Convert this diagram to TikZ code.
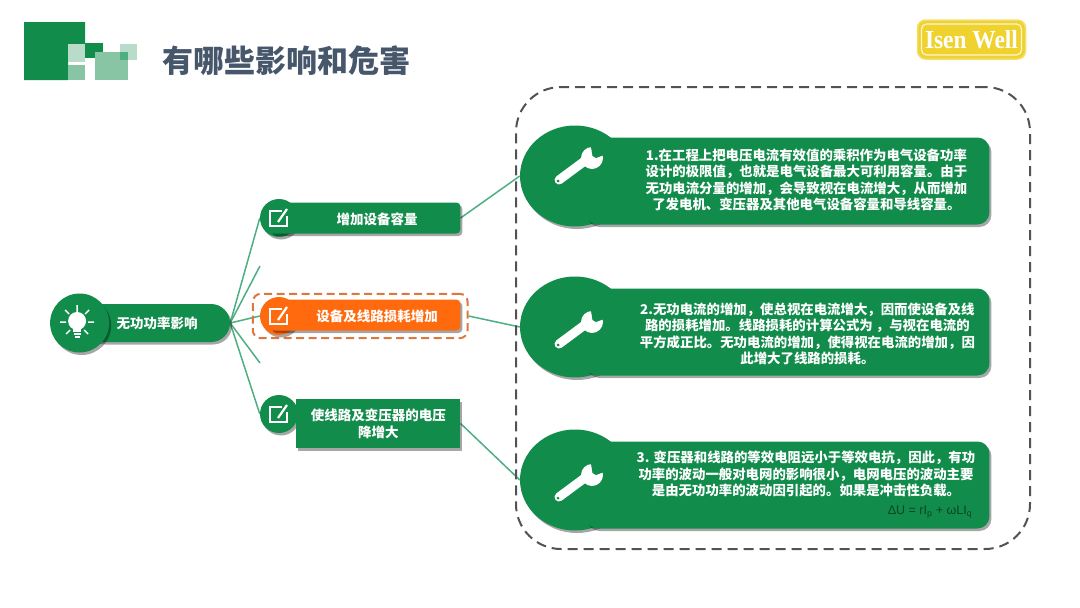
\documentclass[tikz,border=0pt]{standalone}
\usepackage{fontspec}
\setmainfont{Noto Sans CJK SC}
\newfontfamily\logofont{Liberation Serif}
\newfontfamily\formulafont{Liberation Sans}
\usetikzlibrary{positioning,fit,backgrounds,shadows,shapes.geometric}
\definecolor{leaf}{HTML}{118C4B}
\definecolor{leafmid}{HTML}{88C5A5}
\definecolor{leaflight}{HTML}{B8DCC9}
\definecolor{branch}{HTML}{4DAE82}
\definecolor{flame}{HTML}{FF6A0E}
\definecolor{flameline}{HTML}{DB7840}
\definecolor{slate}{HTML}{46566B}
\definecolor{gold}{HTML}{EFD22E}
\tikzset{
softshadow/.style={drop shadow={shadow xshift=2pt,shadow yshift=-2.5pt,fill=black,opacity=.35}},
iconsmall/.style={circle,fill=leaf,minimum size=38pt,inner sep=0pt,softshadow},
iconlarge/.style={ellipse,fill=leaf,minimum width=110pt,minimum height=101pt,inner sep=0pt,softshadow},
hubshape/.style={fill=leaf,rounded corners=19pt,minimum width=146pt,minimum height=38pt,inner sep=0pt,softshadow,text=white,font=\fontsize{13.5}{16}\selectfont\bfseries},
boxshape/.style={fill=leaf,rounded corners=4pt,minimum width=190pt,minimum height=31pt,inner sep=0pt,softshadow},
cardshape/.style={fill=leaf,rounded corners=12pt,minimum width=404pt,minimum height=87pt,inner sep=0pt,softshadow},
boxtext/.style={text=white,align=center,font=\fontsize{13.5}{17}\selectfont\bfseries,inner sep=0pt},
cardtext/.style={text=white,align=center,font=\fontsize{13.4}{16.4}\selectfont\bfseries,inner sep=0pt},
edge/.style={draw=branch,line width=1.5pt},
note/.pic={\draw[white,line width=1.5pt] (3,-7) -- (-9,-7) -- (-9,8) -- (8,8) -- (8,-2);\draw[white,line width=2.2pt] (-1,4) -- (8,-9);},
wrench/.pic={\draw[white,line width=9pt,line cap=round] (-13,17) -- (14,-3);\fill[white] (20,-5) circle (11pt);\fill[leaf] (19,-16) -- (20.5,-7) -- (24,-5) -- (32,-8) -- (38,-20) -- (25,-28) -- cycle;\fill[leaf] (-14,18) circle (1.5pt);},
bulb/.pic={\fill[white] (0,-2) circle (9pt);\fill[white] (-4,4) rectangle (4,9);\draw[white,line width=1.3pt] (-3.5,11) -- (3.5,11) (-2.5,14) -- (2.5,14);\draw[white,line width=1.5pt] (0,-18) -- (0,-11) (-17,-1) -- (-11,-1) (17,-1) -- (11,-1) (-12,-13) -- (-8,-9) (12,-13) -- (8,-9) (-11,11) -- (-7,7) (11,11) -- (7,7);}
}
\begin{document}
\begin{tikzpicture}[x=1pt,y=-1pt]
\useasboundingbox (0,0) rectangle (1080,608);
\fill[leaf] (24,22) -- (85,22) -- (85,44) -- (68,44) -- (68,80) -- (24,80) -- cycle;
\fill[leaflight] (68,44) rectangle (85,62);
\fill[leafmid] (68,65) rectangle (85,80);
\fill[leaf] (85,43) rectangle (103,58);
\fill[leafmid] (95,52) rectangle (128,80);
\fill[leaflight] (120,44) rectangle (137,60);
\fill[branch] (120,52) rectangle (128,60);
\node[anchor=west,text=slate,font=\fontsize{31}{31}\selectfont\bfseries,inner sep=0pt] (title) at (162,61) {有哪些影响和危害};
\node[fill=gold,draw=gold!70!white,line width=1.5pt,rounded corners=8pt,minimum width=108pt,minimum height=39pt,inner sep=0pt] (brand) at (971.5,39.5) {};
\node[draw=white!80!gold,line width=1.2pt,rounded corners=5pt,minimum width=100pt,minimum height=31pt,inner sep=0pt,text=white,font=\logofont\bfseries\fontsize{26}{26}\selectfont] (brandtext) at (971.5,39.5) {\scalebox{.9}[1]{Isen Well}};
\node[draw=black!68,dashed,dash pattern=on 10pt off 6pt,line width=2pt,rounded corners=45pt,minimum width=514pt,minimum height=462pt] (group) at (773,318) {};
\node[hubshape,at={(157,323)}] (hub) {无功功率影响};
\node[iconsmall,minimum size=59pt,left=-25.5pt of hub] (hubicon) {};
\pic at ([xshift=-2.5pt]hubicon.center) {bulb};
\node[iconsmall] (iconA) at (279,218) {};
\node[boxshape,right=-28pt of iconA] (boxA) {};
\node[iconsmall,fill=flame] (iconB) at (279,316) {};
\node[boxshape,fill=flame,right=-28pt of iconB,yshift=1pt] (boxB) {};
\node[iconsmall] (iconC) at (279,414) {};
\node[boxshape,rounded corners=0pt,minimum width=164pt,minimum height=49pt,right=-2pt of iconC,yshift=-9.5pt] (boxC) {};
\pic at (iconA.center) {note};
\pic at (iconB.center) {note};
\pic at (iconC.center) {note};
\node[boxtext] (textA) at (377,219) {增加设备容量};
\node[boxtext] (textB) at (377,316) {设备及线路损耗增加};
\node[boxtext] (textC) at (boxC.center) {使线路及变压器的电压\\降增大};
\node[draw=flameline,dashed,dash pattern=on 8pt off 4.5pt,line width=2pt,rounded corners=8pt,fit=(iconB)(boxB),inner xsep=7pt,inner ysep=3pt] (frameB) {};
\node[iconlarge] (discA) at (575,176) {};
\node[cardshape,right=-45pt of discA,yshift=-5pt] (cardA) {};
\node[iconlarge] (discB) at (575,327) {};
\node[cardshape,right=-45pt of discB,yshift=-5pt] (cardB) {};
\node[iconlarge] (discC) at (575,480) {};
\node[cardshape,right=-45pt of discC,yshift=-5pt] (cardC) {};
\pic at (572,163) {wrench};
\pic at (572,327) {wrench};
\pic at (572,480) {wrench};
\node[cardtext] (bodyA) at ([xshift=19pt,yshift=1pt]cardA.center) {1.在工程上把电压电流有效值的乘积作为电气设备功率\\设计的极限值，也就是电气设备最大可利用容量。由于\\无功电流分量的增加，会导致视在电流增大，从而增加\\了发电机、变压器及其他电气设备容量和导线容量。};
\node[cardtext] (bodyB) at ([xshift=20pt,yshift=-2pt]cardB.center) {2.无功电流的增加，使总视在电流增大，因而使设备及线\\路的损耗增加。线路损耗的计算公式为 ，与视在电流的\\平方成正比。无功电流的增加，使得视在电流的增加，因\\此增大了线路的损耗。};
\node[cardtext] (bodyC) at (806,474) {3. 变压器和线路的等效电阻远小于等效电抗，因此，有功\\功率的波动一般对电网的影响很小，电网电压的波动主要\\是由无功功率的波动因引起的。如果是冲击性负载。};
\node[text=leaf!50!black,inner sep=0pt,font=\formulafont\fontsize{12.5}{12.5}\selectfont] (formula) at (930,512) {ΔU = rI\textsubscript{p} + ωLI\textsubscript{q}};
\coordinate (stubup) at (260,266);
\coordinate (stubdown) at (260,363);
\begin{scope}[on background layer]
\draw[edge] (hub.east) -- (iconA.west);
\draw[edge] (hub.east) -- (stubup);
\draw[edge] (hub.east) -- (iconB.west);
\draw[edge] (hub.east) -- (stubdown);
\draw[edge] (hub.east) -- (iconC.west);
\draw[edge] (boxA.east) -- (discA.west);
\draw[edge] (frameB.east) -- (discB.west);
\draw[edge] (boxC.east) -- (discC.west);
\end{scope}
\end{tikzpicture}
\end{document}
